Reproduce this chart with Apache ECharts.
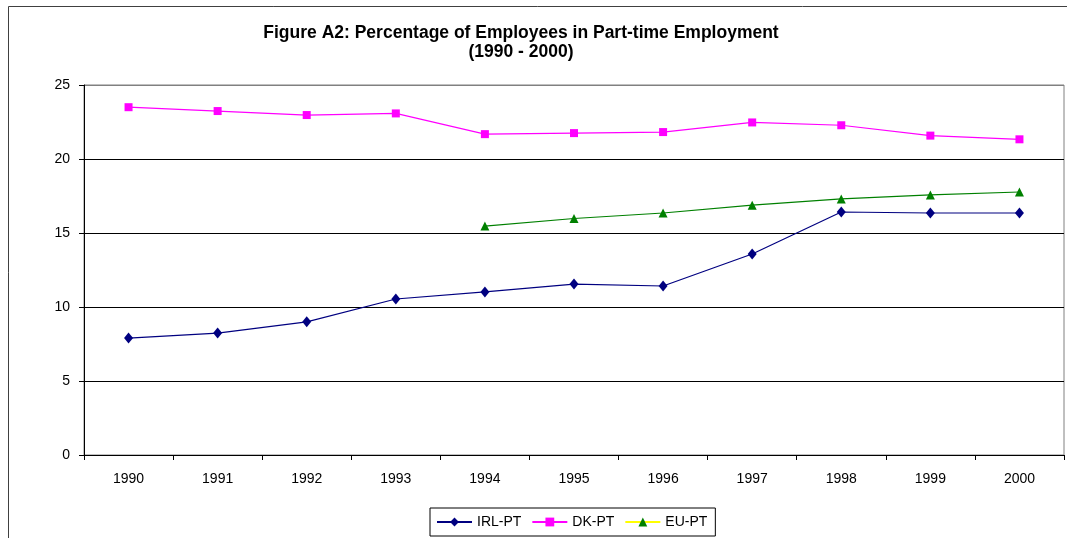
<!DOCTYPE html>
<html>
<head>
<meta charset="utf-8">
<script src="https://cdn.jsdelivr.net/npm/echarts@6/dist/echarts.min.js"></script>
<style>
html,body{margin:0;padding:0;background:#fff;}
#chart{width:1067px;height:538px;}
</style>
</head>
<body>
<div id="chart"></div>
<script>
const years = ['1990','1991','1992','1993','1994','1995','1996','1997','1998','1999','2000'];
const irlPT = [7.9, 8.24, 9.0, 10.54, 11.02, 11.55, 11.42, 13.58, 16.42, 16.35, 16.35];
const dkPT  = [23.5, 23.24, 22.97, 23.08, 21.68, 21.75, 21.82, 22.47, 22.28, 21.58, 21.33];
const euPT  = [null, null, null, null, 15.47, 15.98, 16.35, 16.88, 17.3, 17.57, 17.77];
const yTicks = [0, 5, 10, 15, 20, 25];

const font = 'Liberation Sans, Arial, sans-serif';
const chart = echarts.init(document.getElementById('chart'));
chart.setOption({
  animation: false,
  backgroundColor: '#fff',
  title: {
    text: 'Figure A2: Percentage of Employees in Part-time Employment\n(1990 - 2000)',
    left: 516, textAlign: 'center', top: 19,
    textStyle: {fontFamily: font, fontSize: 17.5, fontWeight: 'bold', color: '#000', lineHeight: 19}
  },
  grid: {left: 84, right: 3, top: 85, bottom: 83, show: true, borderColor: '#808080', borderWidth: 1},
  legend: {
    left: 430, top: 508,
    borderColor: '#000', borderWidth: 1, borderRadius: 0,
    padding: [7, 8, 7, 6],
    itemWidth: 35, itemHeight: 11, itemGap: 10,
    textStyle: {fontFamily: font, fontSize: 14, color: '#000'},
    data: [
      {name: 'IRL-PT'},
      {name: 'DK-PT'},
      {name: 'EU-PT', lineStyle: {color: '#ffff00'}}
    ]
  },
  xAxis: {
    type: 'category', data: years, boundaryGap: true,
    axisLine: {lineStyle: {color: '#000', width: 1}},
    axisTick: {show: true, inside: false, length: 5, lineStyle: {color: '#000'}},
    axisLabel: {fontFamily: font, fontSize: 14, color: '#000', margin: 17},
    splitLine: {show: false}
  },
  yAxis: {
    type: 'value', min: yTicks[0], max: yTicks[yTicks.length-1], interval: 5,
    axisLine: {show: true, lineStyle: {color: '#000', width: 1}},
    axisTick: {show: true, length: 5, lineStyle: {color: '#000'}},
    axisLabel: {fontFamily: font, fontSize: 14, color: '#000', margin: 14},
    splitLine: {show: true, lineStyle: {color: ['#000','#000','#000','#000','#000','#808080'], width: 1}}
  },
  series: [
    {name: 'IRL-PT', type: 'line', data: irlPT, symbol: 'diamond', symbolSize: [9, 11],
     color: '#000080', lineStyle: {color: '#000080', width: 1.2}, itemStyle: {color: '#000080'}},
    {name: 'DK-PT', type: 'line', data: dkPT, symbol: 'rect', symbolSize: 8,
     color: '#ff00ff', lineStyle: {color: '#ff00ff', width: 1.2}, itemStyle: {color: '#ff00ff'}},
    {name: 'EU-PT', type: 'line', data: euPT, symbol: 'triangle', symbolSize: 9,
     color: '#008000', lineStyle: {color: '#008000', width: 1.2}, itemStyle: {color: '#008000'}}
  ],
  graphic: [
    {type: 'polyline', shape: {points: [[8.5, 538], [8.5, 6.5], [1067, 6.5]]},
     style: {stroke: '#404040', lineWidth: 1, fill: null}, silent: true}
  ]
});
</script>
</body>
</html>
